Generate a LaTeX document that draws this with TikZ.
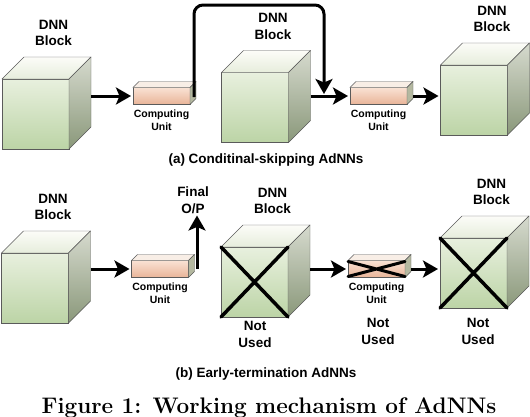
\documentclass[tikz,border=0pt]{standalone}
\usepackage{fontspec}
\setsansfont{Liberation Sans}
\usetikzlibrary{positioning, calc, arrows.meta}

\definecolor{frontlight}{HTML}{E8F0DE}
\definecolor{frontdark}{HTML}{BCD4A6}
\definecolor{toplight}{HTML}{FCFCF8}
\definecolor{topdark}{HTML}{E6EDDC}
\definecolor{sidelight}{HTML}{D6DACE}
\definecolor{sidedark}{HTML}{8A987A}
\definecolor{unitlight}{HTML}{FAE2D4}
\definecolor{unitdark}{HTML}{E8B498}
\definecolor{unittopc}{HTML}{F8EEE6}
\definecolor{unitsidec}{HTML}{B4B8A0}
\definecolor{edgegray}{HTML}{5A5A5A}

\tikzset{
  blockfront/.style={draw=edgegray, line width=0.4pt, minimum width=67pt, minimum height=70pt,
    inner sep=0pt, outer sep=0pt, top color=frontlight, bottom color=frontdark},
  unitfront/.style={draw=edgegray, line width=0.4pt, minimum width=57pt, minimum height=17pt,
    inner sep=0pt, outer sep=0pt, top color=unitlight, bottom color=unitdark},
  blocktop/.style={draw=edgegray, line width=0.4pt, top color=toplight, bottom color=topdark},
  blockside/.style={draw=edgegray, line width=0.4pt, top color=sidelight, bottom color=sidedark},
  unittop/.style={draw=edgegray, line width=0.4pt, fill=unittopc},
  unitside/.style={draw=edgegray, line width=0.4pt, fill=unitsidec},
  blocklabel/.style={font=\sffamily\bfseries\fontsize{13.5}{16.5}\selectfont, align=center, inner sep=0pt},
  unitlabel/.style={font=\sffamily\bfseries\fontsize{10.5}{13.5}\selectfont, align=center, inner sep=0pt},
  caption/.style={font=\sffamily\bfseries\fontsize{13.5}{15}\selectfont, anchor=base, inner sep=0pt},
  flow/.style={line width=3pt, -{Stealth[length=15pt,width=17pt,inset=3.5pt]}, shorten >=2pt},
  cross/.style={line width=3.5pt, line cap=round},
}

% top and side faces of a box, #1 front node, #2 depth
\newcommand{\boxfaces}[4]{%
  \draw[#3] (#1.north west) -- ++(#2,-#2) -- ($(#1.north east)+(#2,-#2)$) -- (#1.north east) -- cycle;
  \draw[#4] (#1.north east) -- ($(#1.north east)+(#2,-#2)$) -- ($(#1.south east)+(#2,-#2)$) -- (#1.south east) -- cycle;
  \coordinate (#1-back) at ($(#1.east)+(#2,-#2)$);
}

\begin{document}
\begin{tikzpicture}[x=1pt,y=-1pt]
    \useasboundingbox (0,0) rectangle (530,416);

    % Add the DNN blocks
    \node[blockfront] (b1) at (35.5,114) {};
    \node[blockfront] (b2) at (255,107.5) {};
    \node[blockfront] (b3) at (474,100) {};
    \node[blockfront] (b4) at (35,288) {};
    \node[blockfront] (b5) at (254.5,282) {};
    \node[blockfront] (b6) at (473.5,273) {};
    \foreach \b in {b1,b2,b3,b4,b5,b6}{\boxfaces{\b}{22}{blocktop}{blockside}}
    \foreach \b in {b1,b2,b3,b4,b5,b6}{
        \node[blocklabel] (\b-text) at ($(\b.north)+(18,-46)$) {DNN\\Block};
    }

    % Add the computing units
    \node[unitfront] (cu1) at (161.5,96) {};
    \node[unitfront] (cu2) at (378.5,96) {};
    \node[unitfront] (cu3) at (160,269) {};
    \node[unitfront] (cu4) at (376.5,269) {};
    \foreach \u in {cu1,cu2,cu3,cu4}{
        \boxfaces{\u}{6}{unittop}{unitside}
        \node[unitlabel,below = 5pt of \u] (\u-text) {Computing\\Unit};
    }

    % Unused parts
    \draw[cross] (b5.north west) -- (b5.south east) (b5.south west) -- (b5.north east);
    \draw[cross] (b6.north west) -- (b6.south east) (b6.south west) -- (b6.north east);
    \draw[cross,line width=3pt] ([yshift=-1pt]cu4.north west) -- ([yshift=1pt]cu4.south east)
        ([yshift=1pt]cu4.south west) -- ([yshift=-1pt]cu4.north east);
    \node[blocklabel] (nu5) at (255,334.5) {Not\\Used};
    \node[blocklabel] (nu4) at (378,331.5) {Not\\Used};
    \node[blocklabel] (nu6) at (478,331.5) {Not\\Used};
    \node[blocklabel] (fop) at (193,200) {Final\\O/P};

    % Connect with arrows
    \coordinate (skip) at (324,5);
    \draw[flow] (b1-back |- cu1.west) -- (cu1.west);
    \draw[flow, rounded corners=9pt] ([shift={(-2pt,-7pt)}]cu1-back) |- (skip) -- (skip |- cu2.west);
    \draw[flow] (b2-back |- cu2.west) -- (cu2.west);
    \draw[flow] (cu2-back |- cu2.east) -- (cu2.east -| b3.west);
    \draw[flow] (b4-back |- cu3.west) -- (cu3.west);
    \draw[flow] ([xshift=8.5pt]cu3.east) -- ([xshift=8.5pt]cu3.east |- fop.south);
    \draw[flow] (b5-back |- cu4.west) -- (cu4.west);
    \draw[flow] (cu4-back |- cu4.east) -- (cu4.east -| b6.west);

    % Captions
    \node[caption] (capa) at (266,163) {(a) Conditinal-skipping AdNNs};
    \node[caption] (capb) at (266,377) {(b) Early-termination AdNNs};
    \node[anchor=base, inner sep=0pt, font=\bfseries\fontsize{22.5}{25}\selectfont] (fig) at (269,413)
        {Figure 1: Working mechanism of AdNNs};
\end{tikzpicture}
\end{document}
